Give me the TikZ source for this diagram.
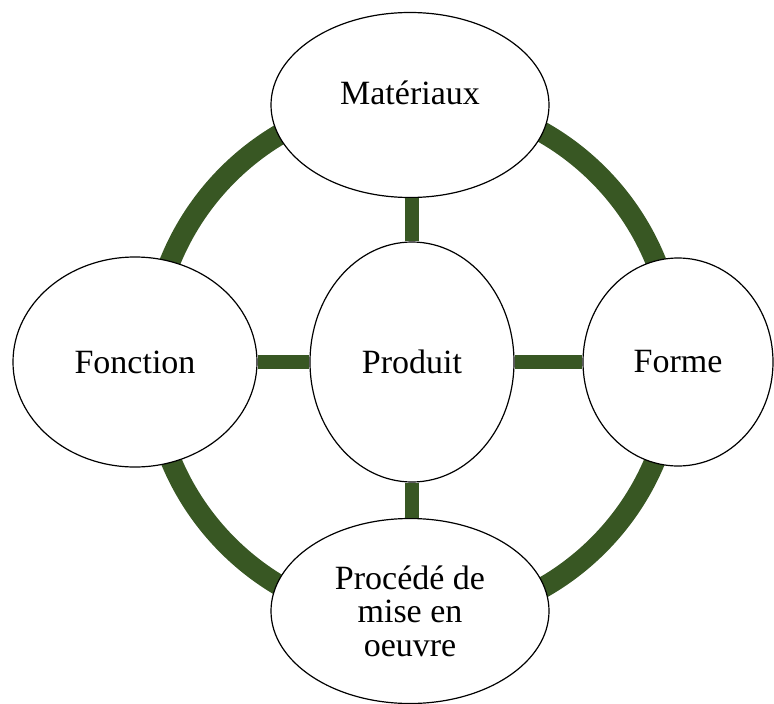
\documentclass[tikz,border=0pt]{standalone}
\usepackage{fontspec}
\setmainfont{Liberation Serif}
\usepackage{tikz}
\usetikzlibrary{shapes.geometric}
\definecolor{leafgreen}{RGB}{56, 87, 35}
\tikzset{
    bubble/.style={ellipse, draw=black, line width=1.2pt, fill=white, inner sep=0pt,
                   font=\fontsize{34}{33.5}\selectfont, align=center},
    spoke/.style={leafgreen, line width=14pt},
    ring/.style={leafgreen, line width=21pt}
}

\begin{document}
\begin{tikzpicture}[x=1pt, y=-1pt]
            % Frame to fix the margins:
            \useasboundingbox                                                  (0, 0) rectangle (774, 704);
            % Outer ring
            \coordinate (hub)                                                  at (413, 360);
            \draw[ring]                                                        (hub) circle (262pt);
            % Bubbles
            \node[bubble, minimum width=204pt, minimum height=240pt] (produit)   at (412, 362) {Produit};
            \node[bubble, minimum width=278pt, minimum height=185pt,
                  text depth=24pt]                                 (materiaux) at (410, 105) {Matériaux};
            \node[bubble, minimum width=244pt, minimum height=210pt] (fonction)  at (135, 362) {Fonction};
            \node[bubble, minimum width=190pt, minimum height=208pt] (forme)     at (678, 362) {Forme};
            \node[bubble, minimum width=278pt, minimum height=185pt] (procede)   at (410, 611) {Procédé de\\mise en\\oeuvre};
            % Spokes
            \draw[spoke] (produit.north) -- (produit.north |- materiaux.south);
            \draw[spoke] (produit.south) -- (produit.south |- procede.north);
            \draw[spoke] (produit) -- (fonction);
            \draw[spoke] (produit) -- (forme);
\end{tikzpicture}
\end{document}
